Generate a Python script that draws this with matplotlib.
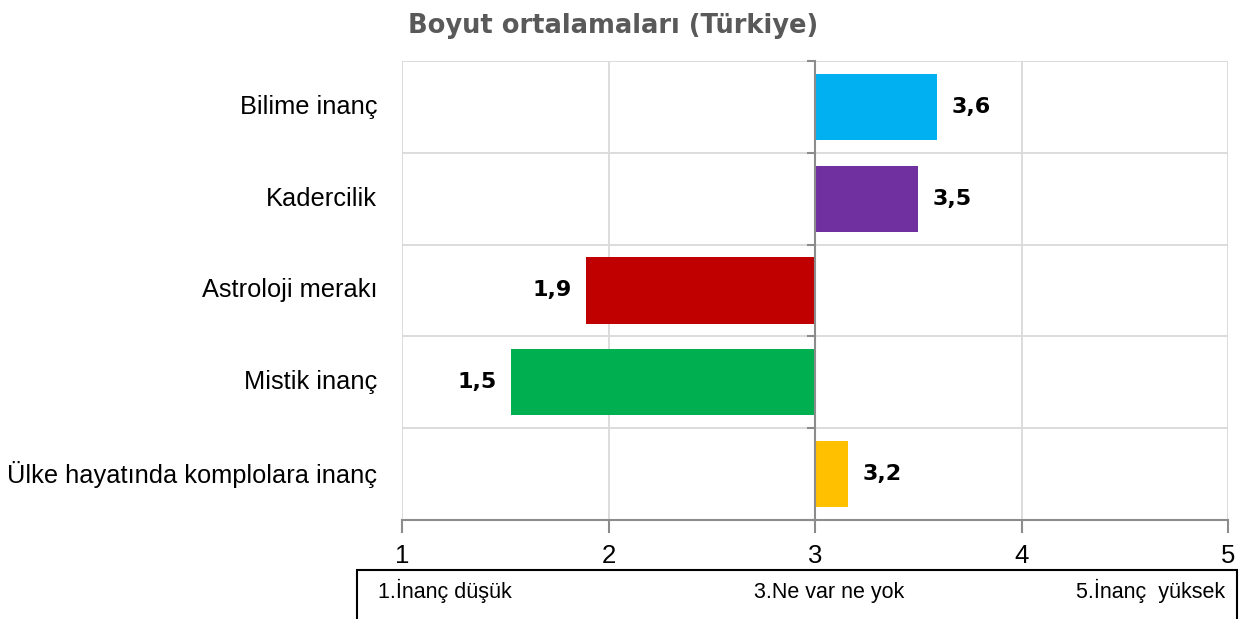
import numpy as np
import matplotlib.pyplot as plt
from matplotlib.patches import Rectangle

# Data
categories = ['Bilime inanç', 'Kadercilik', 'Astroloji merakı', 'Mistik inanç',
              'Ülke hayatında komplolara inanç']
values = [3.59, 3.50, 1.89, 1.53, 3.16]
value_labels = ['3,6', '3,5', '1,9', '1,5', '3,2']
colors = ['#00B0F0', '#7030A0', '#C00000', '#00B050', '#FFC000']
base = 3
xticks = [1, 2, 3, 4, 5]
scale_notes = ['1.İnanç düşük', '3.Ne var ne yok', '5.İnanç  yüksek']

plt.rcParams['font.family'] = ['Liberation Sans', 'DejaVu Sans']

fig = plt.figure(figsize=(12.47, 6.19), dpi=100)
ax = fig.add_axes([0.3224, 0.1599, 0.9848 - 0.3224, 0.9015 - 0.1599])

ypos = np.arange(len(categories))
widths = [v - base for v in values]
ax.barh(ypos, widths, left=base, height=0.72, color=colors, zorder=3)

ax.set_xlim(1, 5)
ax.set_ylim(len(categories) - 0.5, -0.5)

# gridlines
ax.set_xticks(xticks)
ax.set_yticks(np.arange(-0.5, len(categories), 1))
ax.set_yticklabels([])
ax.grid(True, color='#D9D9D9', linewidth=1.3, zorder=0)

# spines
for s in ['top', 'right']:
    ax.spines[s].set_visible(False)
ax.spines['left'].set_position(('data', base))
ax.spines['left'].set_color('#8C8C8C')
ax.spines['left'].set_linewidth(1.5)
ax.spines['left'].set_zorder(4)
ax.spines['bottom'].set_color('#8C8C8C')
ax.spines['bottom'].set_linewidth(1.5)

ax.tick_params(axis='y', direction='out', length=6, color='#8C8C8C', width=1.5)
ax.tick_params(axis='x', direction='out', length=9, color='#8C8C8C', width=1.5,
               labelsize=18.5, pad=8)

# category labels
for y, c in zip(ypos, categories):
    ax.text(-0.03, y, c, transform=ax.get_yaxis_transform(), ha='right', va='center',
            fontsize=18.3)

# value labels
for y, v, lab in zip(ypos, values, value_labels):
    if v >= base:
        ax.text(v + 0.07, y, lab, ha='left', va='center', fontsize=16,
                fontweight='heavy', family='DejaVu Sans')
    else:
        ax.text(v - 0.07, y, lab, ha='right', va='center', fontsize=16,
                fontweight='heavy', family='DejaVu Sans')

fig.text(0.492, 0.958, 'Boyut ortalamaları (Türkiye)', ha='center', va='center',
         fontsize=18.5, fontweight='heavy', color='#595959', family='DejaVu Sans')

# scale box
fig.patches.append(Rectangle((357 / 1247, -0.05), (1237 - 357) / 1247, 0.05 + (619 - 570) / 619,
                             transform=fig.transFigure, fill=False, edgecolor='black',
                             linewidth=1.5))
note_y = 1 - 598 / 619
fig.text(378 / 1247, note_y, scale_notes[0], ha='left', va='baseline', fontsize=15.5)
fig.text(829 / 1247, note_y, scale_notes[1], ha='center', va='baseline', fontsize=15.5)
fig.text(1225 / 1247, note_y, scale_notes[2], ha='right', va='baseline', fontsize=15.5)

plt.savefig('out.png', dpi=100)
